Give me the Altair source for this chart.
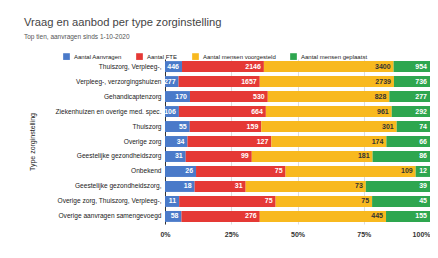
import altair as alt
import pandas as pd

categories = [
    "Thuiszorg, Verpleeg-,",
    "Verpleeg-, verzorgingshuizen",
    "Gehandicaptenzorg",
    "Ziekenhuizen en overige med. spec.",
    "Thuiszorg",
    "Overige zorg",
    "Geestelijke gezondheidszorg",
    "Onbekend",
    "Geestelijke gezondheidszorg,",
    "Overige zorg, Thuiszorg, Verpleeg-,",
    "Overige aanvragen samengevoegd",
]
series = ["Aantal Aanvragen", "Aantal FTE", "Aantal mensen voorgesteld", "Aantal mensen geplaatst"]
aanvragen = [446, 277, 170, 106, 55, 34, 31, 26, 18, 11, 58]
fte = [2146, 1657, 530, 664, 159, 127, 99, 75, 31, 75, 276]
voorgesteld = [3400, 2739, 828, 961, 301, 174, 181, 109, 73, 75, 445]
geplaatst = [954, 736, 277, 292, 74, 66, 86, 12, 39, 45, 155]
colors = ["#4a7ac9", "#e53935", "#f8b91f", "#2ea64f"]
x_ticks = [0, 0.25, 0.5, 0.75, 1.0]

rows = []
for s_i, (s, vals) in enumerate(zip(series, [aanvragen, fte, voorgesteld, geplaatst])):
    for c, v in zip(categories, vals):
        rows.append({"category": c, "series": s, "order": s_i, "value": v})
df = pd.DataFrame(rows)

FONT = "Liberation Sans"

base = alt.Chart(df).transform_stack(
    stack="value",
    groupby=["category"],
    as_=["x0", "x1"],
    offset="normalize",
    sort=[alt.SortField("order", "ascending")],
)

y_enc = alt.Y(
    "category:N",
    sort=categories,
    scale=alt.Scale(paddingInner=0.27, paddingOuter=0.14),
    axis=alt.Axis(
        title="Type zorginstelling",
        titleFontSize=7,
        titleFont=FONT,
        titleColor="#222",
        titleFontWeight="normal",
        labelFontSize=6.6,
        labelFont=FONT,
        labelColor="#222",
        labelPadding=4,
        ticks=False,
        domain=True,
        domainColor="#333",
        labelLimit=200,
        titlePadding=20,
    ),
)

bars = base.mark_bar().encode(
    x=alt.X(
        "x0:Q",
        scale=alt.Scale(domain=[0, 1]),
        axis=alt.Axis(
            values=x_ticks,
            format=".0%",
            title=None,
            labelFontSize=7,
            labelFont=FONT,
            labelFontWeight="bold",
            labelColor="#333",
            labelFlush=False,
            labelAlign=alt.expr("datum.value >= 1 ? 'right' : 'center'"),
            ticks=False,
            domain=False,
            gridColor="#dddddd",
            labelPadding=6,
        ),
    ),
    x2="x1:Q",
    y=y_enc,
    color=alt.Color(
        "series:N",
        scale=alt.Scale(domain=series, range=colors),
        sort=series,
        legend=alt.Legend(
            title=None,
            orient="none",
            legendX=-102,
            legendY=-6,
            direction="horizontal",
            symbolType="square",
            symbolSize=45,
            symbolStrokeWidth=0,
            labelFontSize=6,
            labelFont=FONT,
            labelColor="#222",
            columnPadding=14,
            labelOffset=4,
        ),
    ),
    order=alt.Order("order:Q"),
)

labels = base.mark_text(align="right", baseline="middle", dx=-3, fontSize=7, font=FONT, fontWeight="bold").encode(
    x="x1:Q",
    y=alt.Y("category:N", sort=categories),
    text="value:Q",
    color=alt.condition(
        alt.datum.series == "Aantal mensen voorgesteld",
        alt.value("#333333"),
        alt.value("#ffffff"),
    ),
)

chart = (
    alt.layer(bars, labels)
    .properties(
        width=265,
        height=165,
        title=alt.TitleParams(
            text="Vraag en aanbod per type zorginstelling",
            subtitle="Top tien, aanvragen sinds 1-10-2020",
            anchor="start",
            frame="group",
            dx=-141,
            fontSize=11.2,
            font=FONT,
            fontWeight="normal",
            color="#444",
            subtitleFontSize=6.5,
            subtitleFont=FONT,
            subtitleColor="#555",
            subtitlePadding=5,
            offset=13,
        ),
        autosize=alt.AutoSizeParams(type="none"),
        padding={"left": 157, "top": 51, "right": 0, "bottom": 26},
    )
    .configure_view(stroke=None)
)

chart.save("out.html", embed_options={"renderer": "svg", "actions": False})
